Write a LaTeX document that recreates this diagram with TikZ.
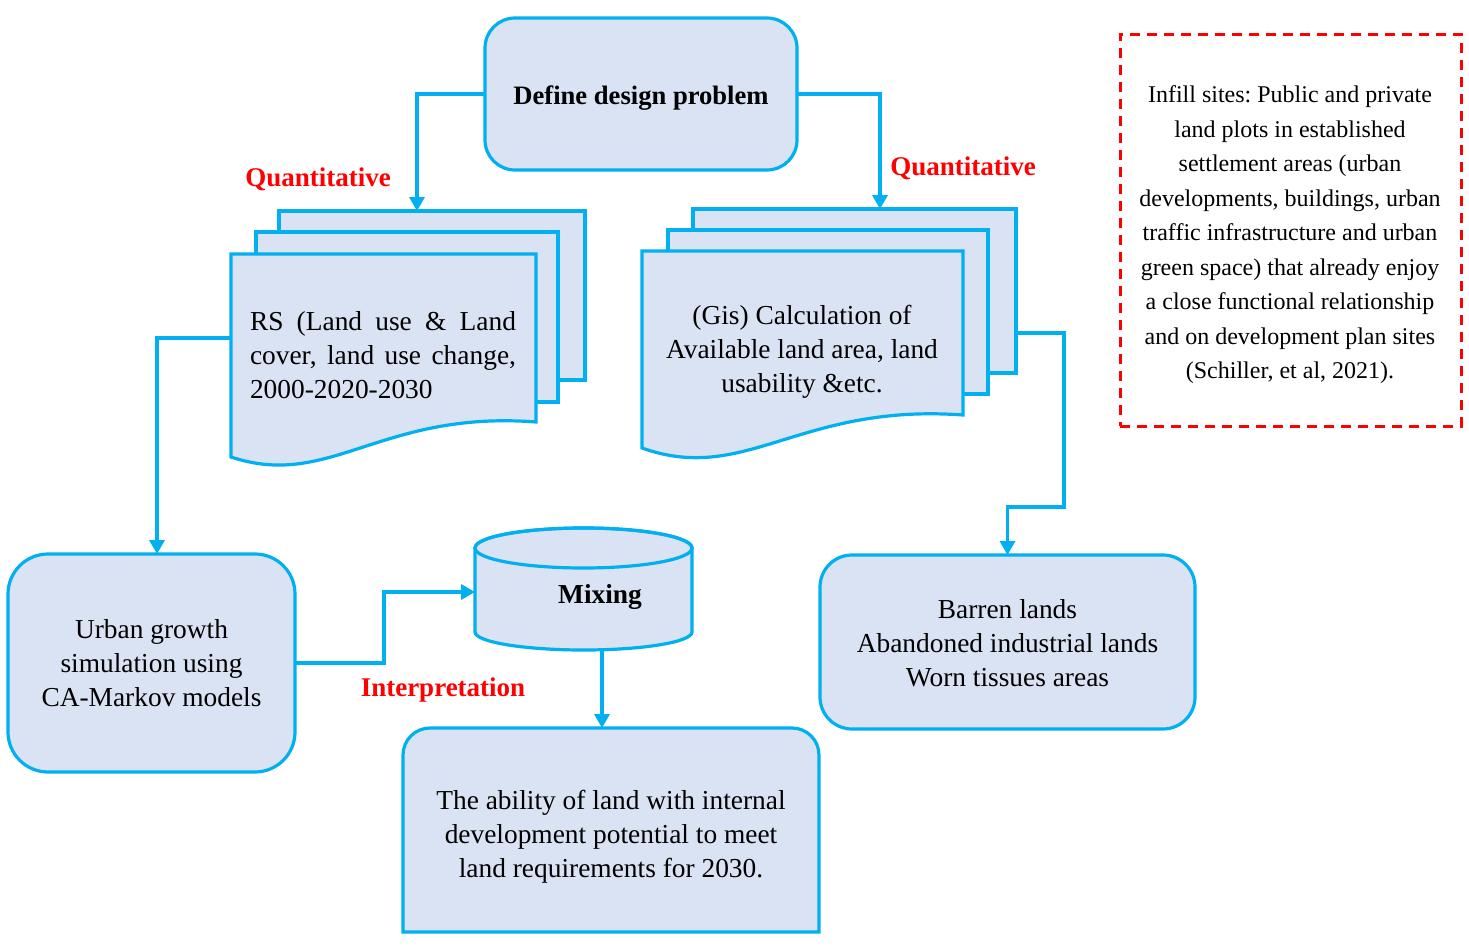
\documentclass[tikz,border=0pt]{standalone}
\usepackage{fontspec}
\setmainfont{Liberation Serif}
\usetikzlibrary{arrows.meta,backgrounds}
\definecolor{cblue}{RGB}{0,176,240}
\definecolor{cfill}{RGB}{218,227,243}
\definecolor{cred}{RGB}{255,0,0}
\newcommand\mtxt{\fontsize{13.7pt}{17pt}\selectfont}
\newcommand\ntxt{\fontsize{12pt}{17.25pt}\selectfont}
\frenchspacing
\begin{document}
\begin{tikzpicture}[x=0.5pt,y=-0.5pt,
  box/.style={draw=cblue, fill=cfill, line width=1.6pt, inner sep=0pt, outer sep=0pt},
  rbox/.style={box, rounded corners=#1, align=center, font=\mtxt},
  ghost/.style={inner sep=0pt, outer sep=0pt},
  conn/.style={draw=cblue, line width=1.7pt, -{Triangle[length=7pt,width=7.5pt]}},
  lbl/.style={text=cred, font=\fontsize{13.5pt}{16pt}\selectfont\bfseries, inner sep=0pt},
  txt/.style={align=center, font=\mtxt, inner sep=0pt}]
\fill[white] (0,0) rectangle (1469,948);
\useasboundingbox (0,0) rectangle (1469,948);

% Define design problem
\node[box, rounded corners=15pt, minimum width=156pt, minimum height=76pt] (define) at (641,94) {};
\node[txt, font=\fontsize{13.3pt}{16pt}\selectfont\bfseries] (definetext) at (641,98) {Define design problem};

% RS document stack
\node[box, minimum width=153pt, minimum height=84.5pt] (rs3) at (432,295.5) {};
\node[box, minimum width=151pt, minimum height=85pt] (rs2) at (407,317) {};
\node[ghost, minimum width=152.5pt, minimum height=84pt] (rs1) at (383.5,338) {};
\path[box] (rs1.south east) -- (rs1.north east) -- (rs1.north west) -- ([shift={(0,35)}]rs1.south west)
  .. controls ([shift={(-206,68)}]rs1.south east) and ([shift={(-156,-12)}]rs1.south east) .. (rs1.south east) -- cycle;
\node[txt, text width=133pt, align=left] (rstext) at (383,355) {\makebox[133pt][l]{RS \hfill(Land \hfill use \hfill\& \hfill Land}\\\makebox[133pt][l]{cover, \hfill land \hfill use \hfill change,}\\2000-2020-2030};

% GIS document stack
\node[box, minimum width=161.5pt, minimum height=82pt] (gis3) at (854.5,291) {};
\node[box, minimum width=160pt, minimum height=82pt] (gis2) at (828,312) {};
\node[ghost, minimum width=160.5pt, minimum height=82pt] (gis1) at (802.5,333) {};
\path[box] (gis1.south east) -- (gis1.north east) -- (gis1.north west) -- ([shift={(0,33)}]gis1.south west)
  .. controls ([shift={(-217,70)}]gis1.south east) and ([shift={(-164,-12)}]gis1.south east) .. (gis1.south east) -- cycle;
\node[txt] (gistext) at (802,352) {(Gis) Calculation of\\Available land area, land\\usability \&etc.};

% Urban growth
\node[rbox=20pt, minimum width=143.5pt, minimum height=109pt] (urban) at (151.5,663) {Urban growth\\simulation using\\CA-Markov models};

% Barren lands
\node[rbox=16pt, minimum width=187.5pt, minimum height=87pt] (barren) at (1007.5,642) {};
\node[txt] (barrentext) at (1007.5,643.5) {Barren lands\\Abandoned industrial lands\\Worn tissues areas};

% Mixing cylinder
\node[ghost, minimum width=108.5pt, minimum height=61pt] (mix) at (583.5,589) {};
\path[box] (475,548) -- (475,632) arc[start angle=180, end angle=360, x radius=54.25pt, y radius=9pt]
  -- (692,548) arc[start angle=0, end angle=180, x radius=54.25pt, y radius=10pt] -- cycle;
\draw[cblue, line width=1.6pt] (583.5,548) ellipse[x radius=54.25pt, y radius=10pt];
\node[txt, font=\mtxt\bfseries] (mixtext) at (600,597) {Mixing};

% Final box
\node[ghost, minimum width=208pt, minimum height=102pt] (final) at (611,830) {};
\path[box] (final.south west) -- ([yshift=-13.5pt]final.north west) arc[start angle=180, end angle=90, radius=13.5pt]
  -- ([xshift=-13.5pt]final.north east) arc[start angle=90, end angle=0, radius=13.5pt] -- (final.south east) -- cycle;
\node[txt] (finaltext) at (611,837) {The ability of land with internal\\development potential to meet\\land requirements for 2030.};

% Infill note
\node[draw=cred, line width=1.5pt, dash pattern=on 5pt off 3.5pt, minimum width=170.5pt, minimum height=196pt, ghost] (infill) at (1290.5,230) {};
\node[align=center, font=\ntxt, inner sep=0pt] (infilltext) at (1290,235) {Infill sites: Public and private\\land plots in established\\settlement areas (urban\\developments, buildings, urban\\traffic infrastructure and urban\\green space) that already enjoy\\a close functional relationship\\and on development plan sites\\(Schiller, et al, 2021).};

% Labels
\node[lbl] (q1) at (318,179) {Quantitative};
\node[lbl] (q2) at (963,168) {Quantitative};
\node[lbl] (interp) at (443,690) {Interpretation};

% Connectors
\draw[conn] (define.west) -| ([xshift=-7.5pt]rs3.north);
\draw[conn] (define.east) -| ([xshift=12.75pt]gis3.north);
\draw[conn] (rs1.west) -| ([xshift=2.75pt]urban.north);
\draw[conn] ([yshift=-21pt]gis3.east) -| ++(48,174) -| (barren.north);
\begin{pgfonlayer}{background}
\draw[conn] (gis1.south) |- ([yshift=-9.5pt]mix.east);
\end{pgfonlayer}
\draw[conn] (urban.east) -- ++(89,0) |- ([yshift=-1.5pt]mix.west);
\draw[conn] ([xshift=9.25pt]mix.south) -- ([xshift=9.25pt]mix.south |- final.north);
\end{tikzpicture}
\end{document}
